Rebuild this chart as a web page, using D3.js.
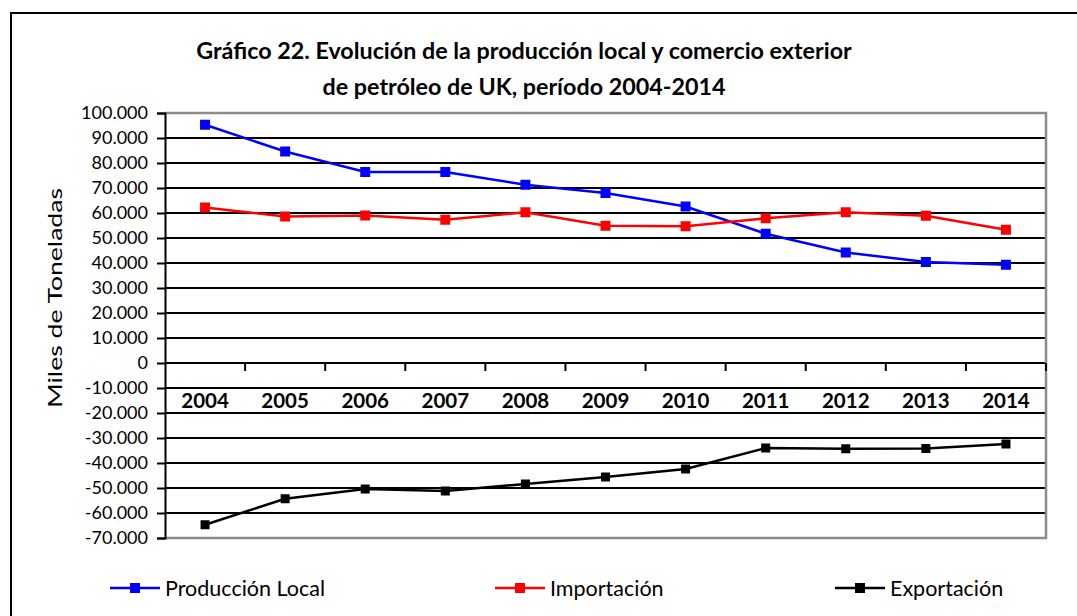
<!DOCTYPE html>
<html>
<head>
<meta charset="utf-8">
<script src="https://cdn.jsdelivr.net/npm/d3@7"></script>
<style>
  body { margin: 0; background: #fff; }
  text { font-family: Lato, "Open Sans", sans-serif; }
</style>
</head>
<body>
<div id="chart"></div>
<script>
// Gráfico 22 - producción, importación y exportación de petróleo UK

let width = 1077;
let height = 616;

// data (miles de toneladas)
let years = ["2004", "2005", "2006", "2007", "2008", "2009", "2010", "2011", "2012", "2013", "2014"];
let produccion = [95300, 84600, 76400, 76400, 71300, 68000, 62600, 51700, 44200, 40400, 39300];
let importacion = [62200, 58600, 59000, 57300, 60300, 54900, 54700, 57900, 60300, 58900, 53300];
let exportacion = [-64700, -54300, -50400, -51200, -48400, -45600, -42400, -34000, -34300, -34200, -32400];
let yTicks = [100000, 90000, 80000, 70000, 60000, 50000, 40000, 30000, 20000, 10000, 0,
              -10000, -20000, -30000, -40000, -50000, -60000, -70000];

let series = [
    {name: "Producción Local", values: produccion, color: "#0000ff", size: 10},
    {name: "Importación", values: importacion, color: "#ff0000", size: 10},
    {name: "Exportación", values: exportacion, color: "#000000", size: 9}
];

let plot = {left: 165, right: 1046, top: 113, bottom: 538};

let svg = d3.select("#chart")
    .append("svg")
    .attr("width", width)
    .attr("height", height);

// outer frame of the chart
svg.append("rect")
    .attr("x", 11).attr("y", 13)
    .attr("width", 1080).attr("height", 620)
    .attr("fill", "white")
    .attr("stroke", "black")
    .attr("stroke-width", 2);

let x = d3.scaleBand()
    .domain(years)
    .range([plot.left, plot.right])
    .padding(0);

let y = d3.scaleLinear()
    .domain([-70000, 100000])
    .range([plot.bottom, plot.top]);

let fmt = function (d) {
    // spanish thousands separator, plain hyphen for negatives
    return d3.format(",")(d).replace(/,/g, ".").replace("\u2212", "-");
};

// title
let title = svg.append("text")
    .attr("x", 524)
    .attr("text-anchor", "middle")
    .attr("font-weight", "bold")
    .attr("font-size", 23.3);
title.append("tspan").attr("x", 524).attr("y", 59)
    .text("Gráfico 22. Evolución de la producción local y comercio exterior");
title.append("tspan").attr("x", 524).attr("y", 95)
    .text("de petróleo de UK, período 2004-2014");

// horizontal gridlines
svg.append("g")
    .selectAll("line")
    .data(yTicks.filter(function (d) { return d != 100000 && d != -70000; }))
    .enter()
    .append("line")
    .attr("x1", plot.left).attr("x2", plot.right)
    .attr("y1", function (d) { return y(d); })
    .attr("y2", function (d) { return y(d); })
    .attr("stroke", "black")
    .attr("stroke-width", 2);

// plot area border (grey top, right, bottom)
svg.append("path")
    .attr("d", "M" + plot.left + "," + plot.top + "H" + plot.right + "V" + plot.bottom + "H" + plot.left)
    .attr("fill", "none")
    .attr("stroke", "#8c8c8c")
    .attr("stroke-width", 2.5);

// y axis
let yAxis = svg.append("g")
    .attr("transform", "translate(" + plot.left + ",0)")
    .call(d3.axisLeft(y).tickValues(yTicks).tickFormat(fmt).tickSize(8).tickPadding(9));
yAxis.select(".domain").attr("stroke-width", 2);
yAxis.selectAll(".tick line").attr("stroke-width", 2);
yAxis.selectAll("text")
    .attr("font-size", 18)
    .attr("font-family", "Lato, sans-serif")
    .attr("fill", "black");

// x axis at y = 0: ticks between categories, labels below
let xAxis = svg.append("g")
    .attr("transform", "translate(0," + y(0) + ")");
xAxis.selectAll("line")
    .data(years.slice(1).concat(["end"]))
    .enter()
    .append("line")
    .attr("x1", function (d, i) { return plot.left + x.bandwidth() * (i + 1); })
    .attr("x2", function (d, i) { return plot.left + x.bandwidth() * (i + 1); })
    .attr("y1", 0).attr("y2", 8)
    .attr("stroke", "black")
    .attr("stroke-width", 2);
xAxis.selectAll("text")
    .data(years)
    .enter()
    .append("text")
    .attr("x", function (d) { return x(d) + x.bandwidth() / 2; })
    .attr("y", 45)
    .attr("text-anchor", "middle")
    .attr("font-weight", "bold")
    .attr("font-size", 20.5)
    .text(function (d) { return d; });

// y axis title (stretched like the original)
svg.append("text")
    .attr("transform", "translate(62,298) rotate(-90)")
    .attr("text-anchor", "middle")
    .attr("font-size", 19)
    .attr("textLength", 220)
    .attr("lengthAdjust", "spacingAndGlyphs")
    .text("Miles de Toneladas");

// series lines and markers
let line = d3.line()
    .x(function (d, i) { return x(years[i]) + x.bandwidth() / 2; })
    .y(function (d) { return y(d); });

series.forEach(function (s) {
    svg.append("path")
        .datum(s.values)
        .attr("d", line)
        .attr("fill", "none")
        .attr("stroke", s.color)
        .attr("stroke-width", 2.5);

    svg.append("g")
        .selectAll("rect")
        .data(s.values)
        .enter()
        .append("rect")
        .attr("x", function (d, i) { return x(years[i]) + x.bandwidth() / 2 - s.size / 2; })
        .attr("y", function (d) { return y(d) - s.size / 2; })
        .attr("width", s.size)
        .attr("height", s.size)
        .attr("fill", s.color);
});

// legend
let legendX = [110, 495, 835];
let legend = svg.append("g")
    .selectAll("g")
    .data(series)
    .enter()
    .append("g")
    .attr("transform", function (d, i) { return "translate(" + legendX[i] + ",588)"; });
legend.append("line")
    .attr("x1", 0).attr("x2", 50)
    .attr("stroke", function (d) { return d.color; })
    .attr("stroke-width", 2.5);
legend.append("rect")
    .attr("x", 20).attr("y", -5)
    .attr("width", 10).attr("height", 10)
    .attr("fill", function (d) { return d.color; });
legend.append("text")
    .attr("x", 55)
    .attr("y", 8)
    .attr("font-size", 21.5)
    .text(function (d) { return d.name; });
</script>
</body>
</html>
